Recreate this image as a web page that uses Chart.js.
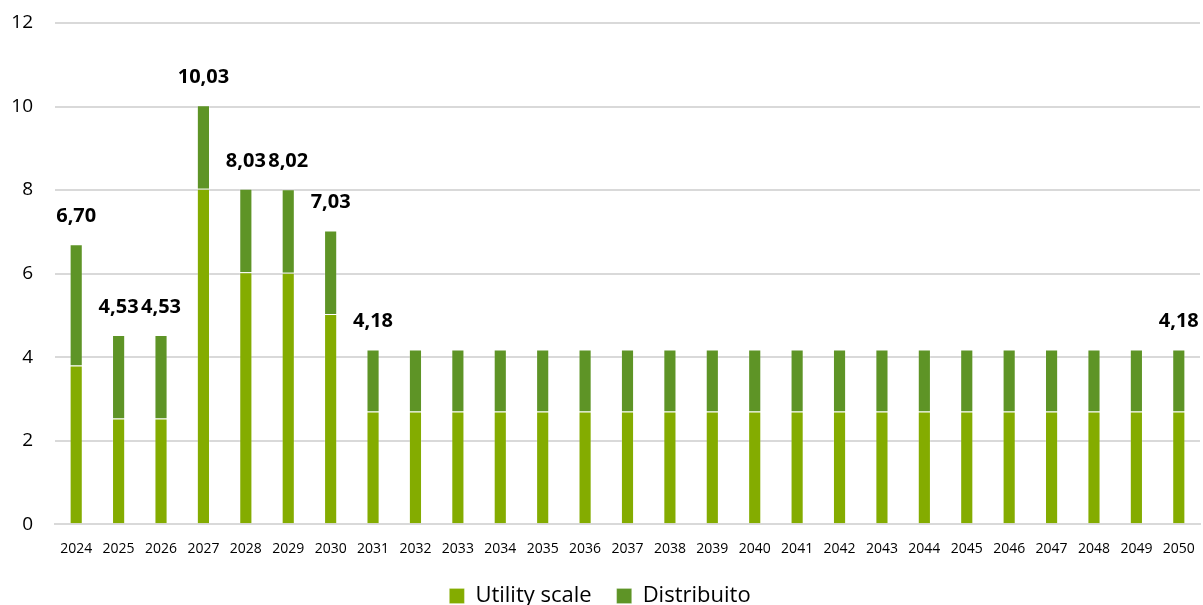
<!DOCTYPE html>
<html>
<head>
    <title>Utility scale / Distribuito</title>
    <script src="https://cdn.jsdelivr.net/npm/chart.js"></script>
    <style>
        html, body {
            margin: 0;
            padding: 0;
            background: #ffffff;
        }
        #wrap {
            width: 1203px;
            height: 605px;
        }
    </style>
</head>
<body>
    <div id="wrap"><canvas id="chart"></canvas></div>

    <script>
    const years = ['2024', '2025', '2026', '2027', '2028', '2029', '2030', '2031', '2032', '2033',
        '2034', '2035', '2036', '2037', '2038', '2039', '2040', '2041', '2042', '2043',
        '2044', '2045', '2046', '2047', '2048', '2049', '2050'];
    const utilityScale = [3.80, 2.53, 2.53, 8.03, 6.03, 6.02, 5.03, 2.70, 2.70, 2.70,
        2.70, 2.70, 2.70, 2.70, 2.70, 2.70, 2.70, 2.70, 2.70, 2.70,
        2.70, 2.70, 2.70, 2.70, 2.70, 2.70, 2.70];
    const distribuito = [2.90, 2.00, 2.00, 2.00, 2.00, 2.00, 2.00, 1.48, 1.48, 1.48,
        1.48, 1.48, 1.48, 1.48, 1.48, 1.48, 1.48, 1.48, 1.48, 1.48,
        1.48, 1.48, 1.48, 1.48, 1.48, 1.48, 1.48];
    // years whose total is written above the bar
    const labelledYears = ['2024', '2025', '2026', '2027', '2028', '2029', '2030', '2031', '2050'];

    const fontFamily = '"Open Sans", "Noto Sans", sans-serif';

    // totals above bars, written with comma decimals
    const totalLabels = {
        id: 'totalLabels',
        afterDatasetsDraw(chart) {
            let ctx = chart.ctx;
            let meta = chart.getDatasetMeta(1);
            ctx.save();
            ctx.font = 'bold 20px ' + fontFamily;
            ctx.fillStyle = '#000000';
            ctx.textAlign = 'center';
            ctx.textBaseline = 'middle';
            years.forEach((y, i) => {
                if (!labelledYears.includes(y)) return;
                let total = utilityScale[i] + distribuito[i];
                let bar = meta.data[i];
                ctx.fillText(total.toFixed(2).replace('.', ','), bar.x, bar.y - 28);
            });
            ctx.restore();
        }
    };

    let ctx = document.getElementById('chart').getContext('2d');
    new Chart(ctx, {
        type: 'bar',
        data: {
            labels: years,
            datasets: [{
                label: 'Utility scale',
                data: utilityScale,
                backgroundColor: '#84ac00',
                borderColor: 'rgba(255,255,255,0.2)',
                borderWidth: 1,
                categoryPercentage: 1,
                barPercentage: 0.31
            }, {
                label: 'Distribuito',
                data: distribuito,
                backgroundColor: '#5e9426',
                borderColor: 'rgba(255,255,255,0.2)',
                borderWidth: 1,
                categoryPercentage: 1,
                barPercentage: 0.31
            }]
        },
        options: {
            responsive: true,
            maintainAspectRatio: false,
            animation: false,
            layout: {
                padding: { top: 23, right: 3, left: 0, bottom: -12 }
            },
            plugins: {
                legend: {
                    position: 'bottom',
                    labels: {
                        boxWidth: 15,
                        boxHeight: 15,
                        padding: 25,
                        color: '#000000',
                        font: { family: fontFamily, size: 22 }
                    }
                },
                tooltip: { enabled: false }
            },
            scales: {
                x: {
                    stacked: true,
                    afterFit: function(scale) {
                        scale.height = scale.height - 1;
                    },
                    grid: { display: false, drawTicks: true, tickLength: 12, tickColor: 'rgba(0,0,0,0)' },
                    border: { display: true, color: '#d9d9d9', width: 2 },
                    ticks: {
                        color: '#000000',
                        padding: 4,
                        maxRotation: 0,
                        autoSkip: false,
                        font: { family: fontFamily, size: 14 }
                    }
                },
                y: {
                    stacked: true,
                    min: 0,
                    max: 12,
                    afterFit: function(scale) {
                        scale.width = 55;
                    },
                    grid: { color: '#d9d9d9', lineWidth: 2, drawTicks: true, tickLength: 22, tickColor: 'rgba(0,0,0,0)' },
                    border: { display: false },
                    ticks: {
                        stepSize: 2,
                        color: '#000000',
                        padding: 0,
                        font: { family: fontFamily, size: 19 }
                    }
                }
            }
        },
        plugins: [totalLabels]
    });
    </script>
</body>
</html>
